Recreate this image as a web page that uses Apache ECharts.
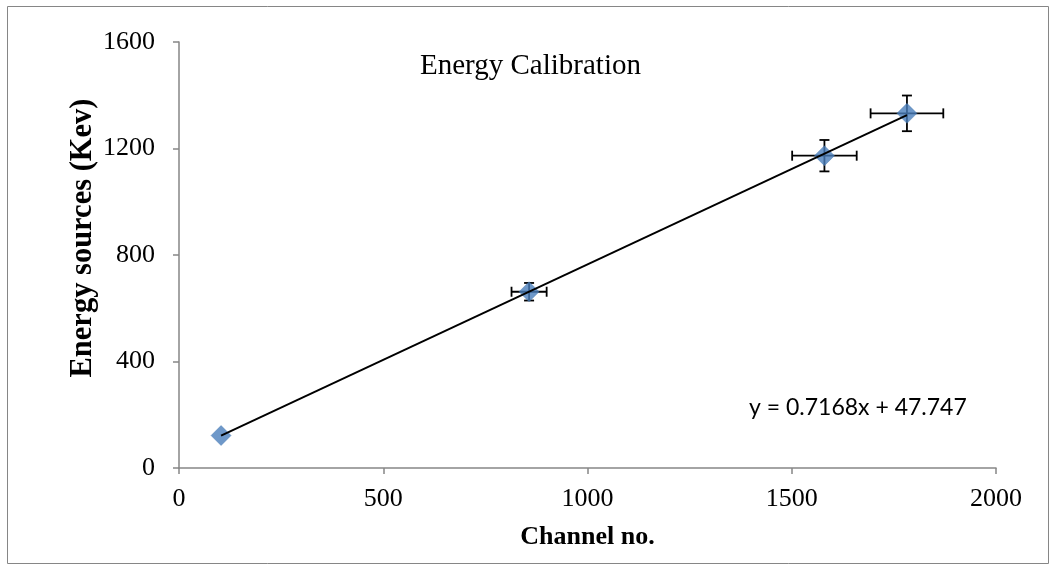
<!DOCTYPE html>
<html>
<head>
<meta charset="utf-8">
<style>
  html, body { margin: 0; padding: 0; background: #fff; }
  #chart { width: 1057px; height: 569px; }
</style>
<script src="https://cdn.jsdelivr.net/npm/echarts@6/dist/echarts.min.js"></script>
</head>
<body>
<div id="chart"></div>
<script>
// Calibration points: channel number vs. source energy (keV)
const channels = [103, 857, 1580, 1782];
const energies = [122, 662, 1173, 1332];
// Uncertainties on each point (0 = no bar drawn)
const channelErr = [0, 43, 79, 89];
const energyErr = [0, 33, 59, 67];
// Linear fit reported on the chart
const slope = 0.7168;
const intercept = 47.747;
const xTicks = [0, 500, 1000, 1500, 2000];
const yTicks = [0, 400, 800, 1200, 1600];

const points = channels.map((c, i) => [c, energies[i]]);
const errData = channels.map((c, i) => [c, energies[i], channelErr[i], energyErr[i]]);
const xMin = Math.min(...channels), xMax = Math.max(...channels);
const fitLine = [[xMin, slope * xMin + intercept], [xMax, slope * xMax + intercept]];

const serif = '"Liberation Serif", "Times New Roman", serif';
const axisGray = '#868686';

const chart = echarts.init(document.getElementById('chart'), null, { renderer: 'canvas' });
chart.setOption({
  animation: false,
  backgroundColor: '#fff',
  grid: { left: 179, top: 42, right: 61, bottom: 101, containLabel: false },
  title: {
    text: 'Energy Calibration',
    left: 415, top: 47,
    textStyle: { fontFamily: serif, fontSize: 29, fontWeight: 'normal', color: '#000' }
  },
  graphic: [
    {
      type: 'rect', z: -1, silent: true,
      shape: { x: 7.5, y: 6.5, width: 1041, height: 557 },
      style: { fill: 'none', stroke: '#868686', lineWidth: 1 }
    },
    {
      type: 'text', left: 749, top: 396,
      style: { text: 'y = 0.7168x + 47.747', fontFamily: 'Lato, "Open Sans", sans-serif', fontSize: 23, fill: '#000' }
    },
    {
      type: 'text', x: 83, y: 238, rotation: Math.PI / 2,
      style: {
        text: 'Energy sources (Kev)', fontFamily: serif, fontSize: 30.5, fontWeight: 'bold',
        fill: '#000', align: 'center', verticalAlign: 'middle'
      }
    }
  ],
  xAxis: {
    type: 'value', min: xTicks[0], max: xTicks[xTicks.length - 1], interval: 500,
    name: 'Channel no.', nameLocation: 'middle', nameGap: 56,
    nameTextStyle: { fontFamily: serif, fontSize: 26, fontWeight: 'bold', color: '#000' },
    axisLine: { show: true, lineStyle: { color: axisGray, width: 1.5 } },
    axisTick: { show: true, inside: false, length: 6, lineStyle: { color: axisGray, width: 1.5 } },
    axisLabel: { margin: 18, fontFamily: serif, fontSize: 26, color: '#000', formatter: v => String(v) },
    splitLine: { show: false }
  },
  yAxis: {
    type: 'value', min: yTicks[0], max: yTicks[yTicks.length - 1], interval: 400,
    axisLine: { show: true, lineStyle: { color: axisGray, width: 1.5 } },
    axisTick: { show: true, inside: false, length: 6, lineStyle: { color: axisGray, width: 1.5 } },
    axisLabel: { margin: 24, fontFamily: serif, fontSize: 26, color: '#000', formatter: v => String(v) },
    splitLine: { show: false }
  },
  series: [
    {
      type: 'custom', z: 1,
      data: errData,
      renderItem: function (params, api) {
        const x = api.value(0), y = api.value(1), ex = api.value(2), ey = api.value(3);
        const cap = 5;
        const st = { stroke: '#000', lineWidth: 1.8 };
        const children = [];
        if (ex > 0) {
          const l = api.coord([x - ex, y]), r = api.coord([x + ex, y]);
          children.push(
            { type: 'line', shape: { x1: l[0], y1: l[1], x2: r[0], y2: r[1] }, style: st },
            { type: 'line', shape: { x1: l[0], y1: l[1] - cap, x2: l[0], y2: l[1] + cap }, style: st },
            { type: 'line', shape: { x1: r[0], y1: r[1] - cap, x2: r[0], y2: r[1] + cap }, style: st }
          );
        }
        if (ey > 0) {
          const t = api.coord([x, y + ey]), b = api.coord([x, y - ey]);
          children.push(
            { type: 'line', shape: { x1: t[0], y1: t[1], x2: b[0], y2: b[1] }, style: st },
            { type: 'line', shape: { x1: t[0] - cap, y1: t[1], x2: t[0] + cap, y2: t[1] }, style: st },
            { type: 'line', shape: { x1: b[0] - cap, y1: b[1], x2: b[0] + cap, y2: b[1] }, style: st }
          );
        }
        return { type: 'group', children: children };
      }
    },
    {
      type: 'scatter', z: 2,
      data: points,
      symbol: 'diamond', symbolSize: 20,
      itemStyle: { color: '#4a7ebb', borderColor: '#3f72ad', borderWidth: 0.5 }
    },
    {
      type: 'line', z: 3,
      data: fitLine,
      symbol: 'none',
      lineStyle: { color: '#000', width: 2 }
    }
  ]
});
</script>
</body>
</html>
